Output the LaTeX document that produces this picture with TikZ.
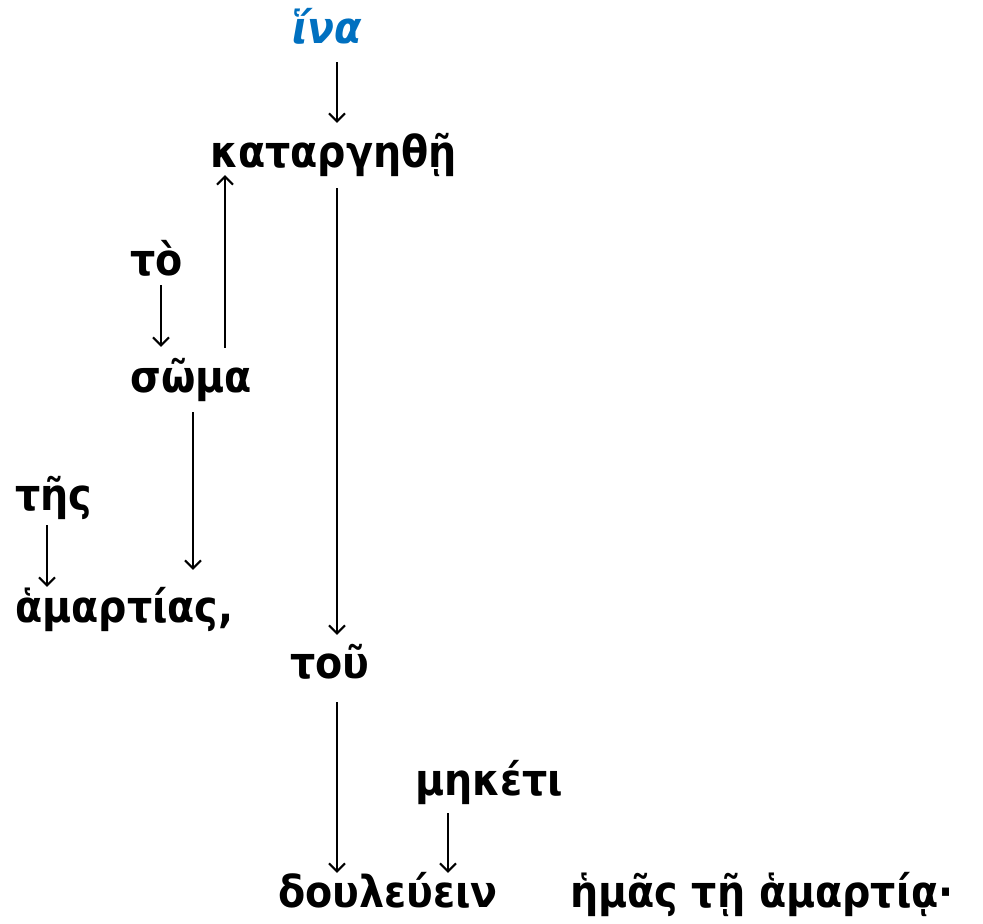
\documentclass[tikz,border=0pt]{standalone}
\usepackage{fontspec}
\setmainfont{DejaVu Sans Condensed}
\usetikzlibrary{arrows.meta}
\definecolor{headblue}{HTML}{0070C0}

\begin{document}
\begin{tikzpicture}[x = 1pt, y = -1pt, font=\bfseries\fontsize{44}{50}\selectfont]
\tikzstyle{wordStyle} = [anchor = base west, inner sep = 0pt, text height = 26pt, text depth = 8pt]
\tikzstyle{headStyle} = [wordStyle, text = headblue, font = \bfseries\itshape\fontsize{44}{50}\selectfont]
\tikzstyle{linkStyle} = [line width = 2pt, -{Straight Barb[length = 8pt, width = 16pt, line width = 2pt]}, shorten < = 10pt, shorten > = 10pt]
\useasboundingbox (0,0) rectangle (983,924);
% words
\node[headStyle] (ina) at (292,43) {ἵνα};
\node[wordStyle] (kat) at (210,167) {καταργηθῇ};
\node[wordStyle] (to) at (130,275) {τὸ};
\node[wordStyle] (soma) at (130,392) {σῶμα};
\node[wordStyle] (tes) at (15,510) {τῆς};
\node[wordStyle] (amart) at (15,622) {ἁμαρτίας,};
\node[wordStyle] (tou) at (290,678) {τοῦ};
\node[wordStyle] (meketi) at (415,795) {μηκέτι};
\node[wordStyle] (doul) at (278,907) {δουλεύειν};
\node[wordStyle] (hemas) at (570,907) {ἡμᾶς τῇ ἁμαρτίᾳ·};
% links
\draw[linkStyle, shorten < = 11pt, shorten > = 18pt] (ina.south -| 337,0) -- (kat.north -| 337,0);
\draw[linkStyle, shorten < = 13pt, shorten > = 17pt] (kat.south -| 337,0) -- (tou.north -| 337,0);
\draw[linkStyle, shorten < = 18pt, shorten > = 0pt] (soma.north -| 225,0) -- (kat.south -| 225,0);
\draw[linkStyle, shorten < = 2pt, shorten > = 19pt] (to.south -| 161,0) -- (soma.north -| 161,0);
\draw[linkStyle, shorten < = 12pt, shorten > = 26pt] (soma.south -| 193,0) -- (amart.north -| 193,0);
\draw[linkStyle, shorten < = 7pt, shorten > = 9pt] (tes.south -| 47,0) -- (amart.north -| 47,0);
\draw[linkStyle, shorten < = 16pt, shorten > = 8pt] (tou.south -| 337,0) -- (doul.north -| 337,0);
\draw[linkStyle, shorten < = 10pt, shorten > = 8pt] (meketi.south -| 448,0) -- (doul.north -| 448,0);
\end{tikzpicture}
\end{document}
